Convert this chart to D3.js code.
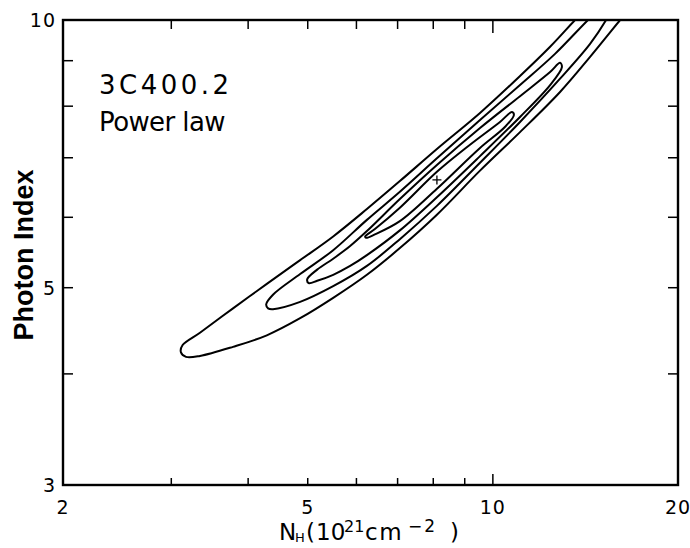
<!DOCTYPE html>
<html><head><meta charset="utf-8">
<script src="https://cdn.jsdelivr.net/npm/d3@7"></script>
<style>html,body{margin:0;padding:0;background:#fff;}svg{display:block;}</style>
</head><body>
<script>
// ---- data (N_H in 1e21 cm^-2, photon index) ----
const xDomain = [2, 20];
const yDomain = [3, 10];
const xMinorTicks = [3, 4, 5, 6, 7, 8, 9, 10];
const xTickLabels = [2, 5, 10, 20];
const yMinorTicks = [4, 5, 6, 7, 8, 9];
const yTickLabels = [3, 5, 10];
const bestFit = [8.11, 6.61];
// innermost confidence contour (closed)
const contour1 = [[6.20,5.71],[6.43,5.82],[7.06,6.15],[8.11,6.75],[9.18,7.24],[10.27,7.68],[10.74,7.88],
  [10.82,7.82],[10.46,7.58],[9.53,7.18],[8.11,6.46],[7.06,5.94],[6.43,5.74],[6.22,5.69]];
// second contour (closed)
const contour2 = [[4.99,5.11],[5.18,5.24],[5.50,5.39],[5.86,5.57],[6.24,5.79],[7.06,6.29],[8.11,6.87],[9.53,7.56],[11.07,8.21],[12.39,8.74],[12.86,8.95],
  [12.95,8.85],[12.39,8.45],[11.07,7.78],[9.53,7.03],[8.11,6.32],[7.06,5.80],[6.24,5.44],[5.86,5.29],[5.50,5.17],[5.18,5.09],[5.02,5.06]];
// third contour (open at top)
const contour3 = [[15.16,10.39],[14.28,10.00],[12.62,9.16],[11.07,8.45],[9.53,7.72],[8.11,6.99],[7.06,6.41],[6.24,5.96],[5.50,5.51],[4.86,5.18],[4.39,4.91],[4.28,4.79],
  [4.31,4.74],[4.39,4.73],[4.86,4.82],[5.50,5.02],[6.24,5.29],[7.06,5.67],[8.11,6.18],[9.53,6.91],[11.07,7.68],[12.86,8.59],[14.39,9.40],[15.28,10.00],[15.74,10.39]];
// outermost contour (open at top)
const contour4 = [[14.50,10.48],[13.60,10.00],[12.39,9.33],[11.07,8.65],[9.53,7.86],[8.11,7.16],[7.06,6.59],[6.24,6.13],[5.50,5.71],[4.86,5.37],[4.29,5.05],[3.78,4.74],[3.34,4.45],[3.13,4.31],[3.11,4.23],
  [3.17,4.18],[3.34,4.19],[3.78,4.29],[4.29,4.42],[4.86,4.62],[5.50,4.87],[6.24,5.17],[7.06,5.54],[8.11,6.04],[9.53,6.77],[11.07,7.48],[12.86,8.30],[14.39,9.09],[16.10,10.00],[16.84,10.39]];

const W = 690, H = 548;
const m = {left: 63, right: 12, top: 20, bottom: 63};
const x = d3.scaleLog().domain(xDomain).range([m.left, W - m.right]);
const y = d3.scaleLog().domain(yDomain).range([H - m.bottom, m.top]);

const svg = d3.select("body").append("svg").attr("width", W).attr("height", H);
const font = "'DejaVu Sans', sans-serif";

svg.append("clipPath").attr("id", "clip").append("rect")
  .attr("x", x(xDomain[0])).attr("y", y(yDomain[1]))
  .attr("width", x(xDomain[1]) - x(xDomain[0])).attr("height", y(yDomain[0]) - y(yDomain[1]));

const g = svg.append("g").attr("clip-path", "url(#clip)");
const lineOpen = d3.line().x(d => x(d[0])).y(d => y(d[1])).curve(d3.curveCatmullRom.alpha(0.5));
const lineClosed = d3.line().x(d => x(d[0])).y(d => y(d[1])).curve(d3.curveCatmullRomClosed.alpha(0.5));
[contour4, contour3].forEach(c => g.append("path").attr("d", lineOpen(c)).attr("fill", "none").attr("stroke", "#000").attr("stroke-width", 2));
[contour2, contour1].forEach(c => g.append("path").attr("d", lineClosed(c)).attr("fill", "none").attr("stroke", "#000").attr("stroke-width", 2));

// best-fit cross
const cx = x(bestFit[0]), cy = y(bestFit[1]);
svg.append("path").attr("d", `M${cx-4.5},${cy}H${cx+4.5}M${cx},${cy-4.5}V${cy+4.5}`).attr("stroke", "#000").attr("stroke-width", 1.3);

// frame
svg.append("rect").attr("x", x(xDomain[0])).attr("y", y(yDomain[1]))
  .attr("width", x(xDomain[1]) - x(xDomain[0])).attr("height", y(yDomain[0]) - y(yDomain[1]))
  .attr("fill", "none").attr("stroke", "#000").attr("stroke-width", 2.4);

// ticks
const tk = svg.append("g").attr("stroke", "#000").attr("stroke-width", 1.5);
xMinorTicks.forEach(v => {
  const len = v === 10 ? 11 : 7;
  tk.append("line").attr("x1", x(v)).attr("x2", x(v)).attr("y1", y(yDomain[0])).attr("y2", y(yDomain[0]) - len);
  tk.append("line").attr("x1", x(v)).attr("x2", x(v)).attr("y1", y(yDomain[1])).attr("y2", y(yDomain[1]) + len + 2);
});
yMinorTicks.forEach(v => {
  tk.append("line").attr("y1", y(v)).attr("y2", y(v)).attr("x1", x(xDomain[0])).attr("x2", x(xDomain[0]) + 10);
  tk.append("line").attr("y1", y(v)).attr("y2", y(v)).attr("x1", x(xDomain[1])).attr("x2", x(xDomain[1]) - 10);
});

// tick labels
svg.selectAll(".xl").data(xTickLabels).enter().append("text")
  .attr("x", d => x(d)).attr("y", y(yDomain[0]) + 29).attr("text-anchor", "middle")
  .attr("font-family", font).attr("font-size", 19).attr("letter-spacing", 1).text(d => d);
svg.selectAll(".yl").data(yTickLabels).enter().append("text")
  .attr("x", x(xDomain[0]) - 7).attr("y", d => y(d) + 7).attr("text-anchor", "end")
  .attr("font-family", font).attr("font-size", 19).attr("letter-spacing", 1).text(d => d);

// annotation
svg.append("text").attr("x", 99).attr("y", 94).attr("font-family", font).attr("font-size", 26)
  .attr("letter-spacing", 3.5).text("3C400.2");
svg.append("text").attr("x", 99).attr("y", 131).attr("font-family", font).attr("font-size", 26)
  .attr("letter-spacing", -0.6).text("Power law");

// axis titles
const xt = svg.append("text").attr("y", 540).attr("font-family", font).attr("font-size", 23);
xt.append("tspan").attr("x", 279).text("N");
xt.append("tspan").attr("x", 295).attr("font-size", 13).attr("dy", 2).text("H");
xt.append("tspan").attr("x", 306).attr("dy", -2).text("(");
xt.append("tspan").attr("x", 316).text("10");
xt.append("tspan").attr("x", 344).attr("font-size", 16).attr("dy", -8).text("21");
xt.append("tspan").attr("x", 365).attr("dy", 8).attr("letter-spacing", 1.5).text("cm");
xt.append("tspan").attr("x", 408).attr("font-size", 17).attr("dy", -8).attr("letter-spacing", 2).text("−2");
xt.append("tspan").attr("x", 450).attr("dy", 8).text(")");

svg.append("text").attr("transform", "translate(33,255) rotate(-90)").attr("text-anchor", "middle")
  .attr("font-family", "'Liberation Sans', Arial, sans-serif").attr("font-weight", "bold").attr("font-size", 27)
  .text("Photon Index");
</script>
</body></html>
